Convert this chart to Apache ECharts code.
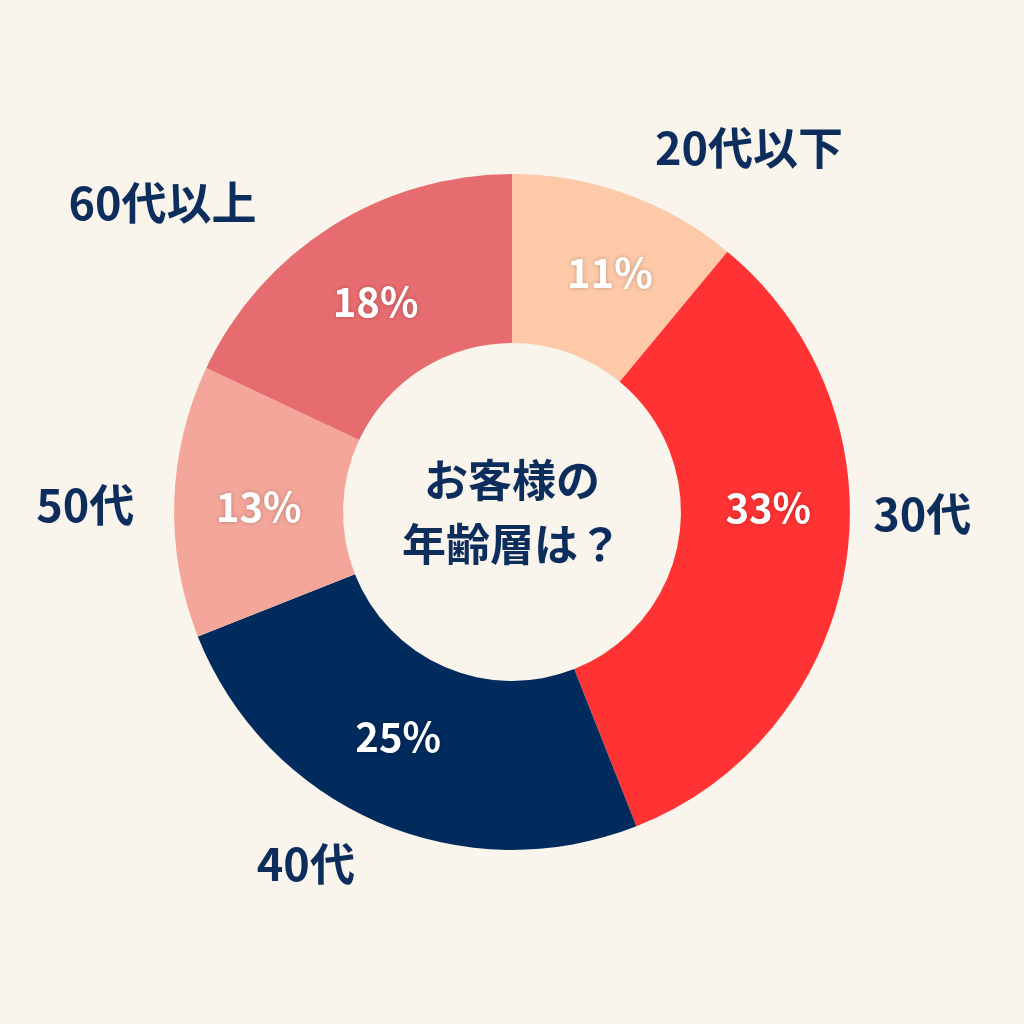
<!DOCTYPE html>
<html>
<head>
<meta charset="utf-8">
<script src="https://cdn.jsdelivr.net/npm/echarts@6/dist/echarts.min.js"></script>
<style>
  html, body { margin: 0; padding: 0; background: #f9f4ec; }
  #main { width: 1024px; height: 1024px; }
</style>
</head>
<body>
<div id="main"></div>
<script>
var categories = ['20代以下', '30代', '40代', '50代', '60代以上'];
var values = [11, 33, 25, 13, 18];
var colors = ['#fdc9a8', '#ff3333', '#002b5c', '#f4a69a', '#e76c70'];
// nudges for the labels, the picture places them by hand
var outerShift = [[10, -9], [-17, -57], [-2, 5], [5, 5], [-48, 10]];
var innerShift = [[11, 2], [3, -44], [-12, -11], [3, 3], [1, 6]];

var FONT = '"Noto Sans CJK JP", "Noto Sans", sans-serif';
var NAVY = '#0d2e5c';

var data = [];
var ghost = [];
for (var i = 0; i < categories.length; i++) {
    data.push({ name: categories[i], value: values[i], itemStyle: { color: colors[i] } });
    ghost.push({ name: categories[i], value: values[i] });
}

var myChart = echarts.init(document.getElementById('main'));
var option = {
    backgroundColor: '#f9f4ec',
    title: {
        text: 'お客様の\n年齢層は？',
        left: 'center',
        top: 'middle',
        textStyle: {
            fontFamily: FONT, fontSize: 44, fontWeight: 'bold',
            color: NAVY, lineHeight: 64
        }
    },
    series: [
        {
            type: 'pie',
            center: [512, 512],
            radius: ['33%', '66%'],
            startAngle: 90,
            data: data,
            label: {
                show: true,
                position: 'inside',
                formatter: '{c}%',
                fontFamily: FONT, fontSize: 40, fontWeight: 'bold', color: '#ffffff',
                textShadowColor: 'rgba(0,0,0,0.25)', textShadowBlur: 4
            },
            labelLine: { show: false },
            labelLayout: function (p) {
                return { dx: innerShift[p.dataIndex][0], dy: innerShift[p.dataIndex][1] };
            }
        },
        {
            // outer names
            type: 'pie',
            center: [512, 512],
            radius: ['33%', '66%'],
            startAngle: 90,
            silent: true,
            data: ghost,
            itemStyle: { color: 'rgba(0,0,0,0)' },
            label: {
                show: true,
                position: 'outside',
                formatter: '{b}',
                fontFamily: FONT, fontSize: 45, fontWeight: 'bold', color: NAVY
            },
            labelLine: { show: false, length: 40, length2: 0 },
            labelLayout: function (p) {
                return { dx: outerShift[p.dataIndex][0], dy: outerShift[p.dataIndex][1] };
            }
        }
    ]
};
myChart.setOption(option);
</script>
</body>
</html>
